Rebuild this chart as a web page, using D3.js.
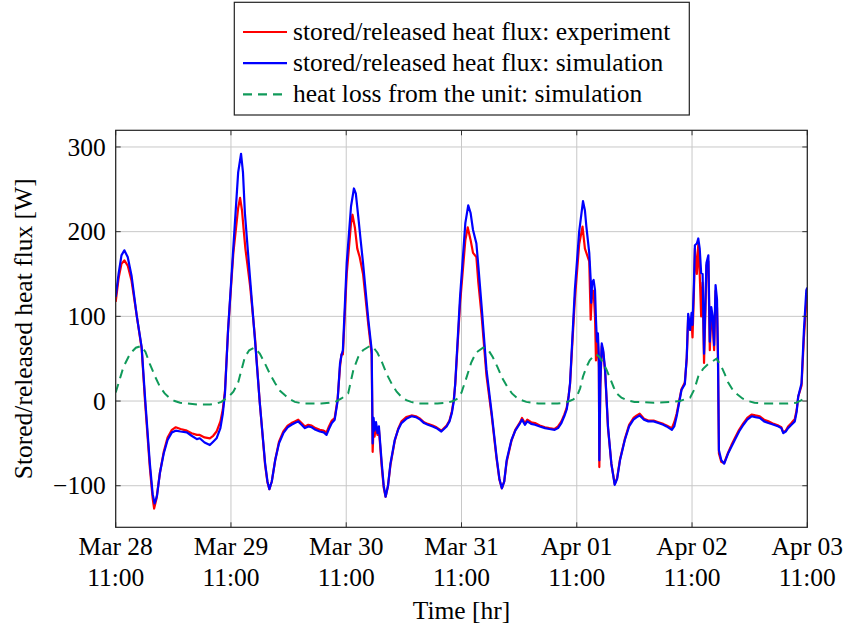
<!DOCTYPE html>
<html>
<head>
<meta charset="utf-8">
<script src="https://cdn.jsdelivr.net/npm/d3@7"></script>
<style>
  body { margin: 0; background: #fff; }
  text { font-family: "Liberation Serif", "Times New Roman", serif; fill: #000; }
</style>
</head>
<body>
<svg></svg>
<script>
//Set Dimensions of svg
var width = 844;
var height = 626;
var svg = d3.select('svg')
            .attr('width', width)
            .attr('height', height);

//Tick labels (x axis is hours after Mar 28 11:00)
var tickHours = [0, 24, 48, 72, 96, 120, 144];
var tickDays = ["Mar 28", "Mar 29", "Mar 30", "Mar 31", "Apr 01", "Apr 02", "Apr 03"];
var tickTime = "11:00";
var yTicks = [-100, 0, 100, 200, 300];

var legendLabels = ["stored/released heat flux: experiment",
                    "stored/released heat flux: simulation",
                    "heat loss from the unit: simulation"];

//Experiment [hour, W]
var expFlux = [[0,117],[0.6,145],[1.2,162],[1.8,166],[2.5,160],[3.3,142],[4.4,100],[5.4,62],[6.1,0],[7.1,-78],[7.7,-115],[8.0,-127],[8.5,-115],[9.2,-85],[10,-60],[10.8,-43],[11.7,-34],[12.5,-31],[13.5,-33],[14.8,-35],[15.8,-38],[16.9,-40],[17.5,-40],[18.5,-43],[19.6,-44],[20.3,-41],[21,-36],[21.8,-24],[22.3,-10],[22.75,12],[23.4,84],[24.5,175],[25.5,228],[25.9,240],[26.3,225],[26.6,205],[27,180],[27.5,158],[28,135],[29,75],[30,-2],[31.1,-75],[31.6,-96],[32,-104],[32.5,-95],[33.2,-70],[34,-48],[34.9,-36],[35.8,-29],[36.6,-26],[37.3,-24],[38,-22],[38.7,-26],[39.4,-30],[40.1,-28],[40.8,-29],[41.6,-32],[42.5,-34],[43.3,-35],[43.9,-37],[44.4,-30],[45,-23],[45.6,-20],[46.2,2],[46.7,40],[47,55],[47.3,55],[48.1,150],[49,210],[49.3,220],[49.8,205],[50.3,180],[50.8,170],[51.5,150],[52.6,90],[53.3,55],[53.5,-60],[53.7,-30],[53.9,-42],[54.2,-28],[54.5,-40],[54.8,-33],[55.4,-78],[55.8,-102],[56.2,-113],[56.7,-100],[57.2,-76],[58.1,-47],[58.8,-33],[59.5,-24],[60.5,-19],[61.6,-17],[62.5,-18],[63.4,-21],[64.2,-25],[65,-27],[66,-29],[66.8,-31],[67.8,-35],[68.9,-29],[69.5,-23],[70,-12],[70.4,2],[70.7,20],[71.7,115],[72.8,190],[73.3,205],[73.9,190],[74.4,175],[75.1,170],[75.5,140],[76.2,100],[77.2,30],[78.3,-18],[79.3,-68],[79.9,-93],[80.4,-103],[80.9,-95],[81.4,-72],[82.4,-47],[83.2,-34],[84.2,-25],[84.6,-20],[85.2,-26],[85.7,-22],[86.5,-25],[87.3,-26],[88.3,-29],[89.4,-31],[90.3,-32],[91.4,-33],[92.1,-30],[92.8,-24],[93.4,-16],[93.9,-8],[94.3,6],[94.6,20],[95.6,120],[96.5,185],[97.2,206],[97.7,180],[98,175],[98.6,165],[98.9,96],[99.2,130],[99.5,130],[99.8,100],[100,48],[100.2,60],[100.4,70],[100.6,40],[100.7,-78],[100.9,15],[101.2,65],[101.5,58],[101.9,35],[102.5,-32],[103.2,-74],[103.9,-98],[104.4,-91],[105,-69],[106,-45],[106.9,-28],[107.8,-20],[108.5,-17],[109.1,-15],[110,-21],[110.9,-23],[112,-23],[113,-25],[114,-27],[114.7,-29],[115.8,-32],[116.3,-25],[116.8,-15],[117.8,14],[118.5,22],[118.9,50],[119.2,100],[119.6,84],[119.9,95],[120.1,75],[120.4,130],[120.6,180],[121,150],[121.3,185],[121.6,150],[121.9,100],[122.2,140],[122.5,45],[122.8,110],[123,160],[123.4,165],[123.7,60],[124,100],[124.3,90],[124.6,60],[124.9,130],[125.2,110],[125.4,50],[125.6,-62],[126.1,-72],[126.7,-73],[127.5,-61],[128.2,-52],[128.9,-44],[129.8,-34],[130.7,-26],[131.5,-20],[132.4,-16],[133.2,-17],[134.1,-18],[135,-22],[135.9,-24],[137,-27],[138,-29],[138.6,-31],[139,-37],[139.5,-35],[140,-30],[140.7,-26],[141.4,-21],[141.8,-10],[142.1,5],[142.8,18],[143.3,75],[143.8,118],[144,125]];

//Simulation [hour, W]
var simFlux = [[0,123],[0.6,150],[1.2,172],[1.8,178],[2.5,170],[3.3,148],[4.4,100],[5.4,64],[6.1,5],[7.1,-73],[7.7,-110],[8.1,-121],[8.6,-112],[9.2,-85],[10,-62],[10.8,-46],[11.7,-37],[12.5,-35],[13.5,-36],[14.8,-37],[15.8,-41],[16.9,-45],[17.5,-44],[18.5,-49],[19.6,-52],[20.3,-48],[21,-44],[21.8,-32],[22.3,-15],[22.75,9],[23.4,84],[24.5,182],[25.5,270],[26.1,292],[26.5,270],[26.9,222],[28,143],[29,72],[30,-2],[31.1,-73],[31.6,-95],[32,-104],[32.5,-95],[33.2,-70],[34,-50],[34.9,-38],[35.8,-31],[36.6,-28],[37.3,-26],[38,-24],[38.7,-28],[39.4,-32],[40.1,-30],[40.8,-31],[41.6,-34],[42.5,-36],[43.3,-37],[43.9,-40],[44.4,-33],[45,-26],[45.6,-22],[46.2,0],[46.7,44],[47,54],[47.3,60],[48.1,163],[49,230],[49.6,251],[50,245],[50.5,218],[51,190],[51.5,163],[52.6,96],[53.3,60],[53.5,-50],[53.7,-20],[53.9,-35],[54.2,-25],[54.5,-38],[54.8,-30],[55.4,-74],[55.8,-100],[56.2,-113],[56.7,-100],[57.2,-74],[58.1,-46],[58.8,-34],[59.5,-26],[60.5,-21],[61.6,-18],[62.5,-19],[63.4,-22],[64.2,-26],[65,-28],[66,-30],[66.8,-32],[67.8,-36],[68.9,-30],[69.5,-24],[70,-14],[70.4,0],[70.7,21],[71.7,123],[72.8,210],[73.4,231],[73.9,222],[74.4,202],[75.1,186],[75.5,160],[76.2,111],[77.2,37],[78.3,-15],[79.3,-66],[79.9,-92],[80.4,-103],[80.9,-95],[81.4,-70],[82.4,-46],[83.2,-35],[84.2,-26],[84.6,-22],[85.2,-28],[85.7,-24],[86.5,-27],[87.3,-28],[88.3,-30],[89.4,-32],[90.3,-33],[91.4,-34],[92.1,-32],[92.8,-26],[93.4,-18],[93.9,-10],[94.3,5],[94.6,21],[95.6,131],[96.5,200],[97.3,236],[97.7,225],[98,206],[98.6,175],[98.9,143],[99,116],[99.2,140],[99.5,143],[99.8,131],[100,96],[100.2,70],[100.4,80],[100.6,52],[100.7,-70],[100.9,20],[101.2,68],[101.5,60],[101.9,37],[102.5,-30],[103.2,-74],[103.9,-99],[104.4,-92],[105,-70],[106,-46],[106.9,-30],[107.8,-22],[108.5,-19],[109.1,-17],[110,-22],[110.9,-24],[112,-24],[113,-26],[114,-28],[114.7,-30],[115.8,-34],[116.3,-30],[116.8,-18],[117.8,13],[118.5,20],[118.9,52],[119.2,103],[119.6,84],[119.9,104],[120.1,90],[120.4,140],[120.6,184],[121,186],[121.3,192],[121.6,180],[121.9,151],[122.2,150],[122.5,56],[122.8,120],[123,163],[123.4,172],[123.7,70],[124,111],[124.3,100],[124.6,66],[124.9,137],[125.2,120],[125.4,55],[125.6,-58],[126.1,-70],[126.7,-74],[127.5,-62],[128.2,-54],[128.9,-46],[129.8,-36],[130.7,-28],[131.5,-22],[132.4,-18],[133.2,-19],[134.1,-20],[135,-24],[135.9,-26],[137,-28],[138,-30],[138.6,-32],[139,-38],[139.5,-36],[140,-32],[140.7,-28],[141.4,-24],[141.8,-12],[142.1,5],[142.8,21],[143.3,84],[143.8,131],[144,134]];

//Heat loss, simulation [hour, W]
var heatLoss = [[0,10],[0.8,25],[1.6,40],[3,56],[4.2,63],[5.3,65],[6.2,58],[7.1,44],[8.2,29],[9.2,17],[10.2,9],[11.3,3],[12.3,0],[13.4,-2],[15,-3],[17,-4],[19.6,-4],[21,-3],[22,-1],[23,3],[24,8],[24.5,11],[25.5,22],[26.2,37],[26.9,52],[27.8,60],[28.9,63],[30,56],[31.1,44],[32.2,31],[33.2,21],[34.2,12],[35.2,7],[36.3,2],[37.3,-1],[39,-3],[42.8,-3],[44.5,-2],[45.7,-1],[47,3],[48.4,9],[49.5,37],[50.5,52],[51.5,60],[52.9,65],[53.7,63],[54.5,57],[55.5,45],[56.5,31],[57.5,20],[58.5,11],[59.5,5],[60.5,1],[61.5,-1],[63,-3],[67,-3],[69,-2],[70.3,0],[71.2,3],[72,10],[73,27],[74,45],[75,57],[76.5,63],[77.5,61],[78.5,52],[79.5,40],[80.5,27],[81.5,17],[82.5,9],[83.5,4],[84.5,1],[85.5,-1],[88,-3],[92,-3],[93.5,-2],[94.5,0],[95.3,2],[96,5],[96.7,15],[97.3,29],[98,40],[98.7,48],[99.5,53],[100.1,55],[100.7,52],[101.4,46],[102.2,37],[103,26],[103.7,16],[104.3,9],[105.3,4],[106.4,1],[108,-1],[112,-2],[116,-1],[117.5,0],[118.5,2],[119.6,4],[120.5,14],[121.3,29],[122.3,38],[123.4,44],[124.3,47],[125.1,50],[126,42],[126.8,32],[127.5,22],[128.5,13],[129.6,7],[130.5,3],[131.7,0],[133,-2],[135,-3],[140,-3],[141.7,-2],[142.8,1],[144,5]];

//Plot area
var plotL = 115.7, plotR = 807.3, plotT = 130.3, plotB = 527.3;

var x = d3.scaleLinear().domain([0, 144]).range([plotL, plotR]);
var y = d3.scaleLinear().domain([-149.1, 319.7]).range([plotB, plotT]);

var font = 25.5;
var tickLen = 5;

//Grid
svg.append("g").selectAll("line").data(tickHours).enter().append("line")
   .attr("x1", d => x(d)).attr("x2", d => x(d))
   .attr("y1", plotT).attr("y2", plotB)
   .attr("stroke", "#c8c8c8").attr("stroke-width", 1);
svg.append("g").selectAll("line").data(yTicks).enter().append("line")
   .attr("x1", plotL).attr("x2", plotR)
   .attr("y1", d => y(d)).attr("y2", d => y(d))
   .attr("stroke", "#c8c8c8").attr("stroke-width", 1);

//Clip for the curves
svg.append("clipPath").attr("id", "plotclip")
   .append("rect").attr("x", plotL).attr("y", plotT)
   .attr("width", plotR - plotL).attr("height", plotB - plotT);

var line = d3.line().x(d => x(d[0])).y(d => y(d[1]));

var curves = svg.append("g").attr("clip-path", "url(#plotclip)");
curves.append("path").datum(expFlux).attr("d", line)
      .attr("fill", "none").attr("stroke", "#ff0000").attr("stroke-width", 2.2)
      .attr("stroke-linejoin", "round");
curves.append("path").datum(simFlux).attr("d", line)
      .attr("fill", "none").attr("stroke", "#0000ff").attr("stroke-width", 2.2)
      .attr("stroke-linejoin", "round");
curves.append("path").datum(heatLoss).attr("d", line)
      .attr("fill", "none").attr("stroke", "#109a5a").attr("stroke-width", 2)
      .attr("stroke-dasharray", "9,6");

//Ticks on all four sides, pointing in
var ticks = svg.append("g").attr("stroke", "#333").attr("stroke-width", 1);
tickHours.forEach(function(h) {
  ticks.append("line").attr("x1", x(h)).attr("x2", x(h)).attr("y1", plotB).attr("y2", plotB - tickLen);
  ticks.append("line").attr("x1", x(h)).attr("x2", x(h)).attr("y1", plotT).attr("y2", plotT + tickLen);
});
yTicks.forEach(function(v) {
  ticks.append("line").attr("x1", plotL).attr("x2", plotL + tickLen).attr("y1", y(v)).attr("y2", y(v));
  ticks.append("line").attr("x1", plotR).attr("x2", plotR - tickLen).attr("y1", y(v)).attr("y2", y(v));
});

//Frame
svg.append("rect").attr("x", plotL).attr("y", plotT)
   .attr("width", plotR - plotL).attr("height", plotB - plotT)
   .attr("fill", "none").attr("stroke", "#222").attr("stroke-width", 1.2);

//Y tick labels
var fmt = d3.format("d");
svg.append("g").selectAll("text").data(yTicks).enter().append("text")
   .attr("x", plotL - 10).attr("y", d => y(d)).attr("dy", "0.34em")
   .attr("text-anchor", "end").style("font-size", font + "px")
   .text(d => fmt(d));

//X tick labels (two lines)
var xl = svg.append("g").selectAll("text").data(tickHours).enter().append("text")
   .attr("text-anchor", "middle").style("font-size", font + "px");
xl.append("tspan").attr("x", d => x(d)).attr("y", 555).text((d, i) => tickDays[i]);
xl.append("tspan").attr("x", d => x(d)).attr("y", 586).text(tickTime);

//Axis titles
svg.append("text").attr("x", (plotL + plotR) / 2).attr("y", 619)
   .attr("text-anchor", "middle").style("font-size", font + "px")
   .text("Time [hr]");
svg.append("text")
   .attr("transform", "translate(32," + ((plotT + plotB) / 2) + ") rotate(-90)")
   .attr("text-anchor", "middle").style("font-size", font + "px")
   .text("Stored/released heat flux [W]");

//Legend
var legend = svg.append("g");
legend.append("rect").attr("x", 234.3).attr("y", 2.3).attr("width", 455).attr("height", 112.7)
      .attr("fill", "#fff").attr("stroke", "#222").attr("stroke-width", 1.2);
var legendStyles = [{c: "#ff0000", d: null}, {c: "#0000ff", d: null}, {c: "#109a5a", d: "9,6"}];
legendLabels.forEach(function(t, i) {
  var ly = 32 + i * 31.2;
  legend.append("line").attr("x1", 243).attr("x2", 287).attr("y1", ly).attr("y2", ly)
        .attr("stroke", legendStyles[i].c).attr("stroke-width", 2.2)
        .attr("stroke-dasharray", legendStyles[i].d);
  legend.append("text").attr("x", 293).attr("y", ly).attr("dy", "0.3em")
        .style("font-size", font + "px").text(t);
});
</script>
</body>
</html>
